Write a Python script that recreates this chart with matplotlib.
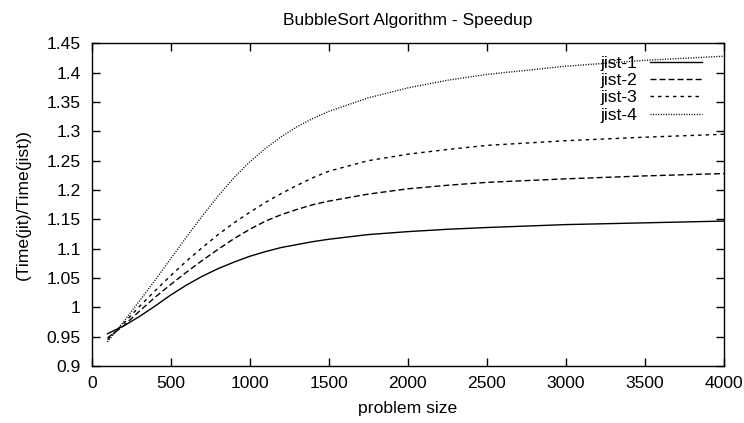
import matplotlib
matplotlib.use('Agg')
import matplotlib.pyplot as plt
from matplotlib.ticker import FuncFormatter, MultipleLocator

# problem sizes and speedup values
sizes = [100, 200, 300, 400, 500, 600, 700, 800, 900, 1000, 1100, 1200,
         1300, 1400, 1500, 1750, 2000, 2250, 2500, 3000, 3500, 4000]

jist_1 = [0.955, 0.968, 0.984, 1.002, 1.021, 1.038, 1.053, 1.066, 1.077, 1.087, 1.095, 1.102,
          1.107, 1.112, 1.116, 1.124, 1.129, 1.133, 1.136, 1.141, 1.144, 1.147]
jist_2 = [0.948, 0.968, 0.993, 1.017, 1.039, 1.060, 1.080, 1.099, 1.117, 1.133, 1.147, 1.158,
          1.167, 1.175, 1.181, 1.193, 1.202, 1.208, 1.213, 1.219, 1.224, 1.228]
jist_3 = [0.945, 0.972, 1.001, 1.028, 1.054, 1.079, 1.102, 1.124, 1.144, 1.162, 1.179, 1.194,
          1.208, 1.221, 1.232, 1.250, 1.261, 1.269, 1.276, 1.284, 1.290, 1.295]
jist_4 = [0.941, 0.975, 1.010, 1.046, 1.083, 1.120, 1.156, 1.190, 1.221, 1.248, 1.271, 1.291,
          1.308, 1.322, 1.334, 1.357, 1.374, 1.387, 1.397, 1.411, 1.421, 1.428]

labels = ['jist-1', 'jist-2', 'jist-3', 'jist-4']

FS = 12.6
plt.rcParams['font.family'] = ['Liberation Sans', 'DejaVu Sans']
plt.rcParams['font.size'] = FS
plt.rcParams['lines.scale_dashes'] = False

fig = plt.figure(figsize=(7.44, 4.23), dpi=100)
ax = fig.add_axes([0.1233, 0.1348, 0.8497, 0.7628])

ax.plot(sizes, jist_1, color='black', lw=1.0, linestyle='-', label=labels[0])
ax.plot(sizes, jist_2, color='black', lw=1.0, dashes=(4.3, 2.2), label=labels[1])
ax.plot(sizes, jist_3, color='black', lw=1.0, dashes=(2.5, 2.9), label=labels[2])
ax.plot(sizes, jist_4, color='black', lw=1.0, dashes=(0.75, 1.1), label=labels[3])

ax.set_xlim(0, 4000)
ax.set_ylim(0.9, 1.45)
ax.xaxis.set_major_locator(MultipleLocator(500))
ax.yaxis.set_major_locator(MultipleLocator(0.05))
ax.yaxis.set_major_formatter(FuncFormatter(lambda v, p: '%g' % round(v, 2)))

ax.tick_params(direction='in', length=6, width=1.0, top=True, right=True,
               labelsize=FS, color='black')
ax.tick_params(axis='x', pad=7.5)
ax.tick_params(axis='y', pad=8)
for s in ax.spines.values():
    s.set_linewidth(1.0)

ax.set_xlabel('problem size', fontsize=FS, labelpad=7)
ax.set_ylabel('(Time(jit)/Time(jist))', fontsize=FS, labelpad=11)
ax.set_title('BubbleSort Algorithm - Speedup', fontsize=FS, pad=13)

ax.legend(loc='upper right', bbox_to_anchor=(0.965, 0.961), frameon=False,
          markerfirst=False, handlelength=2.97, handletextpad=0.74,
          labelspacing=0.11, borderpad=0, borderaxespad=0, fontsize=FS)

fig.savefig('out.png', dpi=100)
plt.close(fig)
